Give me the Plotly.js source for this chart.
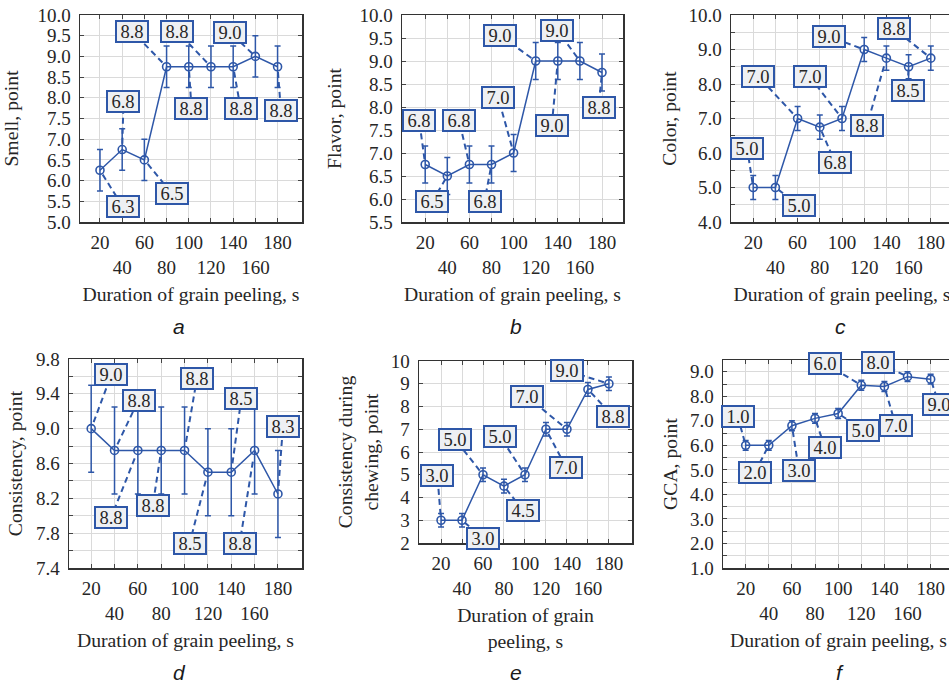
<!DOCTYPE html>
<html><head><meta charset="utf-8">
<script src="https://cdn.plot.ly/plotly-3.0.1.min.js"></script>
<style>html,body{margin:0;padding:0;overflow:hidden;background:#fff;width:949px;height:685px}#chart{width:960px;height:685px}</style>
</head><body><div id="chart"></div><script>
// ---- data ----
const durations = [20, 40, 60, 80, 100, 120, 140, 160, 180];

const smell       = [6.25, 6.75, 6.5, 8.75, 8.75, 8.75, 8.75, 9.0, 8.75];
const smellErr    = [0.5, 0.5, 0.5, 0.5, 0.5, 0.5, 0.5, 0.5, 0.5];
const smellLabels = ['6.3', '6.8', '6.5', '8.8', '8.8', '8.8', '8.8', '9.0', '8.8'];

const flavor       = [6.75, 6.5, 6.75, 6.75, 7.0, 9.0, 9.0, 9.0, 8.75];
const flavorErr    = [0.4, 0.4, 0.4, 0.4, 0.4, 0.4, 0.4, 0.4, 0.4];
const flavorLabels = ['6.8', '6.5', '6.8', '6.8', '7.0', '9.0', '9.0', '9.0', '8.8'];

const colorPts    = [5.0, 5.0, 7.0, 6.75, 7.0, 9.0, 8.75, 8.5, 8.75];
const colorErr    = [0.35, 0.35, 0.35, 0.35, 0.35, 0.35, 0.35, 0.35, 0.35];
const colorLabels = ['5.0', '5.0', '7.0', '6.8', '7.0', '9.0', '8.8', '8.5', '8.8'];

const consistency       = [9.0, 8.75, 8.75, 8.75, 8.75, 8.5, 8.5, 8.75, 8.25];
const consistencyErr    = [0.5, 0.5, 0.5, 0.5, 0.5, 0.5, 0.5, 0.5, 0.5];
const consistencyLabels = ['9.0', '8.8', '8.8', '8.8', '8.8', '8.5', '8.5', '8.8', '8.3'];

const chewing       = [3.0, 3.0, 5.0, 4.5, 5.0, 7.0, 7.0, 8.75, 9.0];
const chewingErr    = [0.3, 0.3, 0.3, 0.3, 0.3, 0.3, 0.3, 0.3, 0.3];
const chewingLabels = ['3.0', '3.0', '5.0', '4.5', '5.0', '7.0', '7.0', '8.8', '9.0'];

const gca       = [6.0, 6.0, 6.8, 7.1, 7.3, 8.45, 8.4, 8.8, 8.7];
const gcaErr    = [0.2, 0.2, 0.2, 0.2, 0.2, 0.2, 0.2, 0.2, 0.2];
const gcaLabels = ['1.0', '2.0', '3.0', '4.0', '5.0', '6.0', '7.0', '8.0', '9.0'];

const xTitle = 'Duration of grain peeling, s';
const xTitleTwoLines = 'Duration of grain<br>peeling, s';
const panelLetters = ['a', 'b', 'c', 'd', 'e', 'f'];

// ---- style / layout ----
const W = 960, H = 685;
const FONT = 'Liberation Serif, Times New Roman, serif';
const BLUE = '#2e57a8';
const TXT = '#262626';
const GRID = '#dadada';
const TITLE_SIZE = 19.7, TICK_SIZE = 19;

const panels = [
  {y: smell, err: smellErr, labels: smellLabels, ytitle: 'Smell, point', xtitle: xTitle,
   px: [80, 302], py: [15, 222], xr: [2, 202], yr: [5, 10], dtick: 0.5, tick0: 5, minor: null, fmt: '.1f', ystand: 16,
   off: [[22.7,36.3],[1.3,-48.3],[27.7,33.7],[-34.7,-35.6],[2.7,41.4],[-34,-35.6],[7.4,41.4],[-25.7,-24.3],[3.3,43.7]],
   letter: [179, 326]},
  {y: flavor, err: flavorErr, labels: flavorLabels, ytitle: 'Flavor, point', xtitle: xTitle,
   px: [402, 623], py: [15, 222], xr: [-1, 199], yr: [5.5, 10], dtick: 0.5, tick0: 5.5, minor: null, fmt: '.1f', ystand: 12,
   off: [[-6,-44],[-15,25.3],[-10.3,-44],[-7,36.7],[-15.3,-55],[-35.7,-25.4],[-6,64.3],[-22.7,-30.7],[-3.4,35]],
   letter: [516, 326]},
  {y: colorPts, err: colorErr, labels: colorLabels, ytitle: 'Color, point', xtitle: xTitle,
   px: [731, 953], py: [15, 222], xr: [0, 200], yr: [4, 10], dtick: 1, tick0: 4, minor: 0.5, fmt: '.1f', ystand: 6,
   off: [[-6,-39],[23.7,18],[-39.3,-42],[15.3,35.3],[-32.4,-42],[-35.3,-13],[-19.7,67.7],[-1,23.3],[-36.7,-29.3]],
   letter: [840, 326]},
  {y: consistency, err: consistencyErr, labels: consistencyLabels, ytitle: 'Consistency, point', xtitle: xTitle,
   px: [69, 302], py: [359, 568], xr: [1, 200.6], yr: [7.4, 9.8], dtick: 0.4, tick0: 7.4, minor: 0.2, fmt: '.1f', ystand: 8,
   off: [[20.3,-54.3],[24,-50.3],[-26.6,66.7],[-8.4,54.7],[12.3,-71.7],[-18.4,71.6],[10,-73.4],[-15,93.3],[5,-67.6]],
   letter: [179, 672]},
  {y: chewing, err: chewingErr, labels: chewingLabels, ytitle: 'Consistency during<br>chewing, point', xtitle: xTitleTwoLines,
   px: [419, 632], py: [361, 543], xr: [-1, 202], yr: [2, 10], dtick: 1, tick0: 2, minor: null, fmt: 'd', ystand: 7,
   off: [[-3.7,-45],[21,18],[-27.6,-35],[19,24.3],[-25,-38.3],[20.3,38.4],[-40.3,-33],[25.4,27],[-42,-13]],
   letter: [516, 672]},
  {y: gca, err: gcaErr, labels: gcaLabels, ytitle: 'GCA, point', xtitle: xTitle,
   px: [723, 954], py: [360, 568], xr: [0.4, 200.2], yr: [1, 9.48], dtick: 1, tick0: 1, minor: 0.5, fmt: '.1f', ystand: 7,
   off: [[-8,-29.3],[-13.7,26.7],[7,44.3],[10,29.4],[25.3,16.7],[-36.3,-22],[11.3,39],[-29.7,-14.4],[8.3,25]],
   letter: [840, 672]}
];

const tickText = durations.map((d, i) => (i % 2 === 1 ? '<br>' : '') + d);

const data = [];
const layout = {
  width: W, height: H,
  margin: {l: 0, r: 0, t: 0, b: 0},
  paper_bgcolor: '#fff', plot_bgcolor: '#fff',
  showlegend: false,
  font: {family: FONT, size: 18, color: TXT},
  annotations: [], shapes: []
};

panels.forEach((p, k) => {
  const n = k + 1;
  const xa = 'xaxis' + (n === 1 ? '' : n), ya = 'yaxis' + (n === 1 ? '' : n);
  const xr = 'x' + (n === 1 ? '' : n), yr = 'y' + (n === 1 ? '' : n);
  data.push({
    type: 'scatter', mode: 'lines+markers', x: durations, y: p.y, xaxis: xr, yaxis: yr,
    line: {color: BLUE, width: 1.5},
    marker: {symbol: 'circle-open', size: 8, color: BLUE, line: {width: 1.6, color: BLUE}},
    error_y: {type: 'data', array: p.err, visible: true, color: BLUE, thickness: 1.5, width: 3},
    cliponaxis: false, hoverinfo: 'x+y'
  });
  const axisCommon = {
    showline: true, linecolor: '#333', linewidth: 1.5, mirror: 'ticks',
    ticks: 'inside', ticklen: 4, tickcolor: '#444', tickwidth: 1,
    showgrid: true, gridcolor: GRID, gridwidth: 1, zeroline: false,
    tickfont: {family: FONT, size: TICK_SIZE, color: TXT}, fixedrange: true
  };
  layout[xa] = Object.assign({}, axisCommon, {
    domain: [p.px[0] / W, p.px[1] / W], anchor: yr, range: p.xr,
    tickmode: 'array', tickvals: durations, ticktext: tickText, tickangle: 0, ticklabelstandoff: 3,
    title: {text: p.xtitle, font: {family: FONT, size: TITLE_SIZE, color: TXT}, standoff: 10}
  });
  const yax = Object.assign({}, axisCommon, {
    domain: [1 - p.py[1] / H, 1 - p.py[0] / H], anchor: xr, range: p.yr,
    tickmode: 'linear', tick0: p.tick0, dtick: p.dtick, tickformat: p.fmt, ticklabelstandoff: 4,
    title: {text: p.ytitle, font: {family: FONT, size: TITLE_SIZE, color: TXT}, standoff: p.ystand}
  });
  if (p.minor) {
    yax.minor = {dtick: p.minor, tick0: p.tick0, showgrid: true, gridcolor: GRID, gridwidth: 1,
                 ticks: 'inside', ticklen: 4, tickcolor: '#444'};
  }
  layout[ya] = yax;

  // value labels with dashed leader lines
  durations.forEach((d, i) => {
    const dx = p.off[i][0], dy = p.off[i][1];
    layout.shapes.push({
      type: 'line', xref: xr, yref: yr, layer: 'above',
      xsizemode: 'pixel', ysizemode: 'pixel', xanchor: d, yanchor: p.y[i],
      x0: dx * 0.12, y0: -dy * 0.12, x1: dx, y1: -dy,
      line: {color: BLUE, width: 2, dash: '6px,4px'}
    });
    layout.annotations.push({
      xref: xr, yref: yr, x: d, y: p.y[i], xshift: dx, yshift: -dy,
      text: p.labels[i], showarrow: false,
      font: {family: FONT, size: 18.5, color: TXT},
      bgcolor: '#eef0f3', bordercolor: BLUE, borderwidth: 2, borderpad: 1,
      width: 28, height: 17, align: 'center', valign: 'middle'
    });
  });

  layout.annotations.push({
    xref: 'paper', yref: 'paper', x: p.letter[0] / W, y: 1 - p.letter[1] / H,
    xanchor: 'center', yanchor: 'middle', showarrow: false, text: panelLetters[k],
    font: {family: 'Liberation Sans, Arial, sans-serif', size: 21, color: '#1a1a1a', style: 'italic'}
  });
});

Plotly.newPlot('chart', data, layout, {staticPlot: true, displayModeBar: false});
</script></body></html>
